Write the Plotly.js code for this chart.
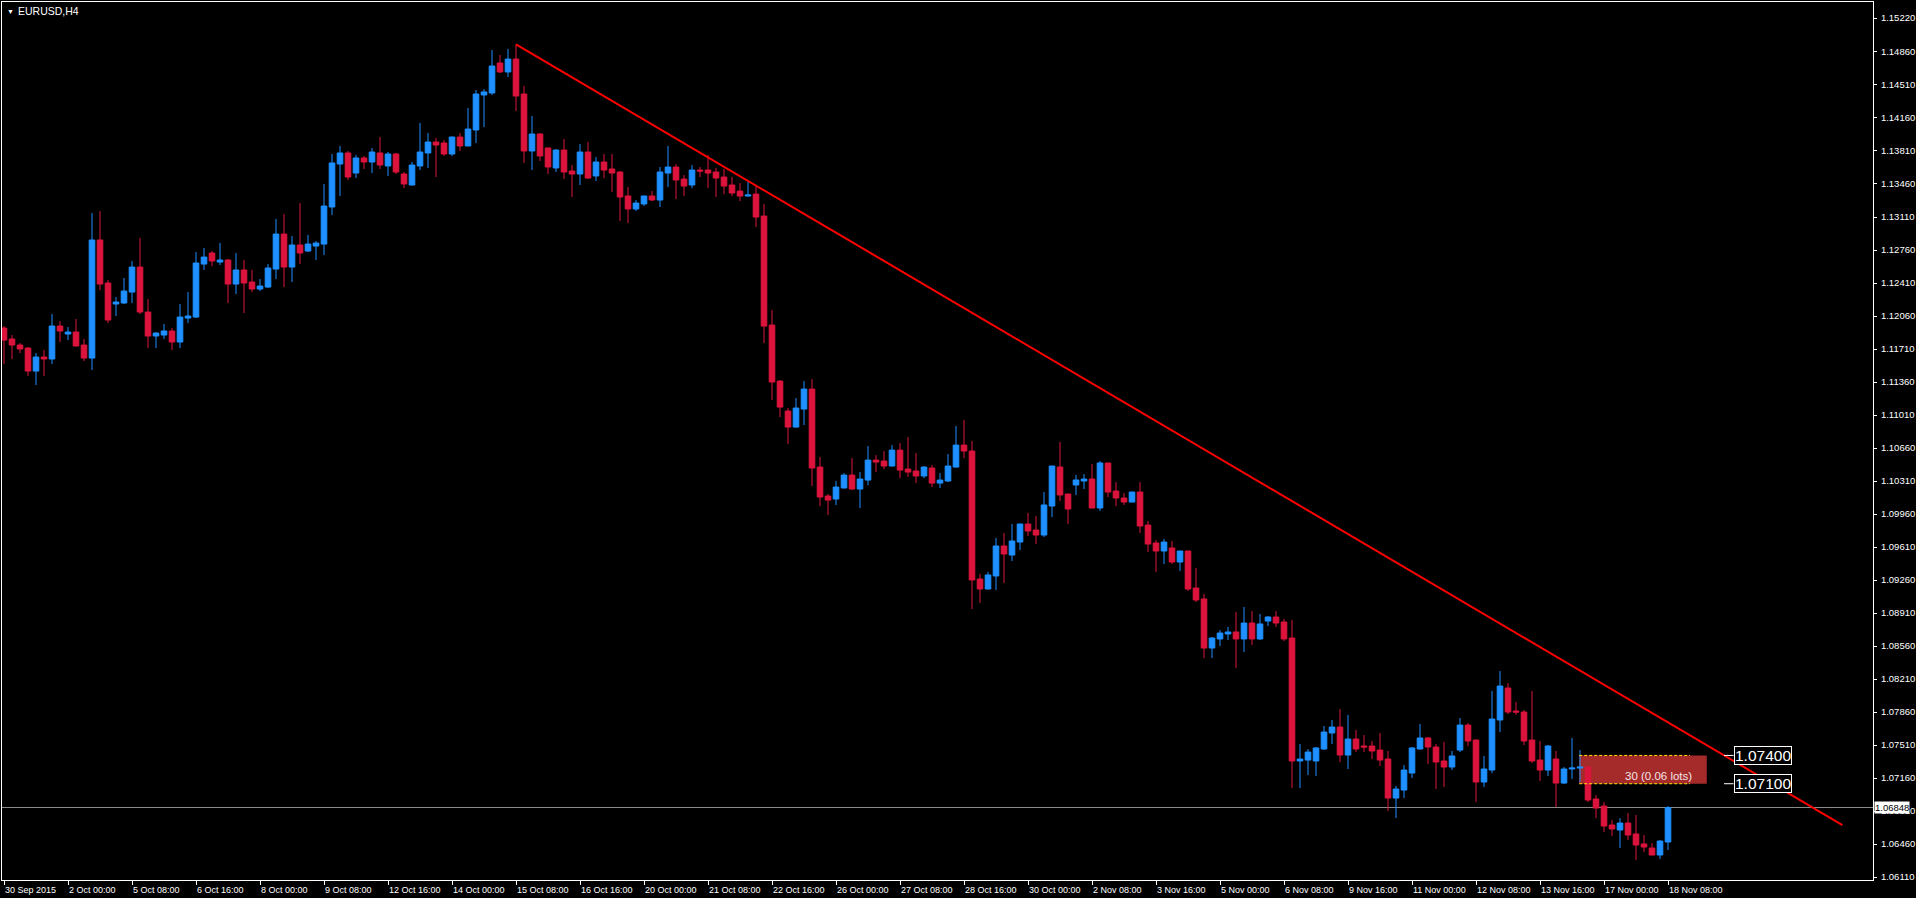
<!DOCTYPE html>
<html>
<head>
<meta charset="utf-8">
<script src="https://cdn.plot.ly/plotly-3.0.1.min.js"></script>
<style>
html,body{margin:0;padding:0;background:#000;}
#chart{width:1916px;height:898px;}
</style>
</head>
<body>
<div id="chart"></div>
<script>
// EURUSD H4 bars, 30 Sep 2015 16:00 .. 18 Nov 2015 08:00
const openP = [
1.11932,1.11816,1.11752,1.11720,1.11476,1.11625,1.11604,1.11954,1.11869,1.11890,
1.11752,1.11614,1.12866,1.12410,1.12187,1.12198,1.12314,1.12579,1.12102,1.11848,
1.11858,1.11901,1.11784,1.12038,1.12049,1.12611,1.12728,1.12632,1.12654,1.12399,
1.12548,1.12420,1.12346,1.12367,1.12558,1.12929,1.12579,1.12813,1.12749,1.12802,
1.12823,1.13216,1.13672,1.13789,1.13576,1.13736,1.13693,1.13789,1.13651,1.13778,
1.13566,1.13449,1.13651,1.13789,1.13905,1.13895,1.13778,1.13958,1.13863,1.14033,
1.14404,1.14425,1.14743,1.14648,1.14785,1.14414,1.13810,1.13990,1.13842,1.13630,
1.13820,1.13598,1.13566,1.13799,1.13545,1.13693,1.13619,1.13587,1.13333,1.13195,
1.13248,1.13333,1.13290,1.13576,1.13640,1.13512,1.13449,1.13608,1.13608,1.13587,
1.13534,1.13449,1.13385,1.13332,1.13353,1.13120,1.11964,1.11370,1.11052,1.10882,
1.11073,1.11285,1.10458,1.10151,1.10119,1.10236,1.10373,1.10225,1.10320,1.10532,
1.10522,1.10469,1.10638,1.10437,1.10416,1.10363,1.10448,1.10288,1.10310,1.10458,
1.10691,1.10628,1.09271,1.09165,1.09303,1.09621,1.09525,1.09663,1.09854,1.09790,
1.09737,1.10045,1.10459,1.10172,1.10268,1.10310,1.10331,1.10024,1.10501,1.10204,
1.10130,1.10087,1.10193,1.09843,1.09653,1.09568,1.09600,1.09451,1.09568,1.09175,
1.09059,1.08539,1.08635,1.08688,1.08709,1.08635,1.08804,1.08635,1.08825,1.08868,
1.08815,1.08645,1.07341,1.07351,1.07341,1.07468,1.07638,1.07701,1.07404,1.07574,
1.07500,1.07500,1.07457,1.07362,1.06948,1.07033,1.07213,1.07468,1.07585,1.07489,
1.07341,1.07277,1.07457,1.07722,1.07563,1.07118,1.07245,1.07776,1.08115,1.07871,
1.07860,1.07563,1.07351,1.07245,1.07362,1.07107,1.07256,1.07266,1.07277,1.06938,
1.06863,1.06662,1.06609,1.06683,1.06567,1.06461,1.06418,1.06344,1.06482
];
const highP = [
1.11954,1.11858,1.11773,1.11731,1.11667,1.11699,1.12081,1.12007,1.11943,1.12028,
1.11816,1.13152,1.13173,1.12442,1.12261,1.12463,1.12643,1.12887,1.12240,1.11890,
1.11975,1.11932,1.12187,1.12314,1.12738,1.12781,1.12749,1.12834,1.12664,1.12728,
1.12654,1.12548,1.12452,1.12611,1.13088,1.13141,1.12908,1.13258,1.12919,1.12855,
1.13460,1.13778,1.13863,1.13810,1.13767,1.13757,1.13842,1.13958,1.13799,1.13789,
1.13587,1.13693,1.14107,1.14001,1.13948,1.13926,1.13962,1.14001,1.14266,1.14457,
1.14467,1.14881,1.14828,1.14892,1.14941,1.14499,1.14181,1.14001,1.13845,1.13831,
1.13937,1.13661,1.13884,1.13905,1.13746,1.13778,1.13778,1.13598,1.13428,1.13290,
1.13336,1.13386,1.13640,1.13863,1.13671,1.13555,1.13661,1.13640,1.13767,1.13629,
1.13618,1.13534,1.13470,1.13481,1.13438,1.13247,1.12123,1.11381,1.11084,1.11190,
1.11370,1.11391,1.10564,1.10172,1.10310,1.10394,1.10554,1.10405,1.10681,1.10585,
1.10628,1.10691,1.10713,1.10776,1.10607,1.10469,1.10479,1.10394,1.10596,1.10893,
1.10957,1.10734,1.09324,1.09346,1.09706,1.09759,1.09854,1.09858,1.09971,1.09939,
1.10193,1.10472,1.10724,1.10176,1.10374,1.10384,1.10490,1.10522,1.10505,1.10299,
1.10183,1.10196,1.10299,1.09886,1.09684,1.09695,1.09674,1.09571,1.09571,1.09387,
1.09112,1.08656,1.08730,1.08762,1.08921,1.08974,1.08931,1.08900,1.08878,1.08931,
1.08847,1.08836,1.07521,1.07468,1.07489,1.07712,1.07776,1.07892,1.07829,1.07670,
1.07616,1.07553,1.07638,1.07447,1.07076,1.07298,1.07489,1.07733,1.07595,1.07521,
1.07542,1.07447,1.07797,1.07744,1.07567,1.07394,1.08083,1.08295,1.08168,1.07966,
1.07882,1.08083,1.07553,1.07510,1.07447,1.07277,1.07585,1.07457,1.07280,1.06980,
1.06906,1.06715,1.06736,1.06789,1.06768,1.06556,1.06471,1.06503,1.06863
];
const lowP = [
1.11551,1.11604,1.11667,1.11423,1.11328,1.11423,1.11551,1.11784,1.11805,1.11738,
1.11582,1.11487,1.12335,1.11985,1.12060,1.12187,1.12198,1.12081,1.11720,1.11720,
1.11816,1.11699,1.11720,1.11985,1.12038,1.12548,1.12590,1.12601,1.12198,1.12293,
1.12092,1.12314,1.12325,1.12357,1.12452,1.12367,1.12420,1.12611,1.12738,1.12654,
1.12707,1.13131,1.13333,1.13502,1.13523,1.13619,1.13576,1.13619,1.13545,1.13566,
1.13417,1.13445,1.13608,1.13630,1.13534,1.13757,1.13757,1.13810,1.13860,1.13895,
1.14064,1.14404,1.14637,1.14595,1.14234,1.13683,1.13608,1.13704,1.13566,1.13587,
1.13513,1.13322,1.13449,1.13513,1.13492,1.13523,1.13375,1.13067,1.13046,1.13173,
1.13227,1.13280,1.13216,1.13428,1.13300,1.13332,1.13417,1.13534,1.13417,1.13321,
1.13353,1.13332,1.13279,1.13330,1.13003,1.11773,1.11169,1.10988,1.10702,1.10878,
1.10904,1.10257,1.10045,1.09949,1.10055,1.10232,1.10214,1.10023,1.10267,1.10405,
1.10437,1.10465,1.10341,1.10352,1.10288,1.10341,1.10246,1.10236,1.10299,1.10454,
1.10554,1.08953,1.09017,1.09160,1.09155,1.09229,1.09462,1.09578,1.09727,1.09642,
1.09716,1.09928,1.10098,1.09854,1.10162,1.10225,1.10020,1.09992,1.10140,1.10045,
1.10056,1.10084,1.09759,1.09557,1.09345,1.09430,1.09430,1.09356,1.09144,1.09027,
1.08433,1.08433,1.08560,1.08624,1.08327,1.08497,1.08571,1.08624,1.08772,1.08762,
1.08613,1.07054,1.07054,1.07192,1.07182,1.07457,1.07521,1.07330,1.07256,1.07436,
1.07436,1.07362,1.07288,1.06810,1.06736,1.06948,1.07160,1.07464,1.07309,1.07044,
1.07065,1.07245,1.07436,1.07500,1.06906,1.07065,1.07213,1.07648,1.07839,1.07829,
1.07510,1.07320,1.07128,1.07182,1.06853,1.07097,1.07150,1.07118,1.06906,1.06736,
1.06588,1.06545,1.06418,1.06503,1.06291,1.06376,1.06340,1.06301,1.06397
];
const closeP = [
1.11805,1.11752,1.11710,1.11476,1.11625,1.11604,1.11954,1.11901,1.11890,1.11742,
1.11614,1.12866,1.12399,1.12017,1.12208,1.12325,1.12579,1.12102,1.11848,1.11879,
1.11901,1.11784,1.12049,1.12060,1.12622,1.12685,1.12643,1.12654,1.12399,1.12548,
1.12410,1.12346,1.12378,1.12569,1.12929,1.12579,1.12813,1.12728,1.12823,1.12834,
1.13226,1.13683,1.13789,1.13534,1.13736,1.13693,1.13799,1.13661,1.13778,1.13587,
1.13460,1.13661,1.13799,1.13905,1.13873,1.13778,1.13958,1.13863,1.14043,1.14414,
1.14436,1.14711,1.14648,1.14785,1.14393,1.13810,1.13990,1.13757,1.13640,1.13820,
1.13587,1.13566,1.13799,1.13523,1.13693,1.13608,1.13576,1.13322,1.13195,1.13258,
1.13333,1.13290,1.13587,1.13640,1.13502,1.13438,1.13608,1.13597,1.13576,1.13523,
1.13438,1.13364,1.13332,1.13343,1.13109,1.11953,1.11360,1.11094,1.10882,1.11084,
1.11285,1.10448,1.10140,1.10108,1.10246,1.10373,1.10225,1.10331,1.10532,1.10511,
1.10469,1.10638,1.10426,1.10405,1.10363,1.10458,1.10288,1.10320,1.10469,1.10691,
1.10628,1.09261,1.09165,1.09314,1.09621,1.09536,1.09674,1.09854,1.09780,1.09737,
1.10056,1.10469,1.10162,1.10013,1.10321,1.10331,1.10024,1.10501,1.10193,1.10130,
1.10087,1.10193,1.09833,1.09642,1.09568,1.09663,1.09451,1.09568,1.09165,1.09048,
1.08539,1.08645,1.08698,1.08709,1.08635,1.08804,1.08635,1.08794,1.08868,1.08804,
1.08635,1.07341,1.07362,1.07436,1.07479,1.07648,1.07701,1.07404,1.07574,1.07468,
1.07489,1.07447,1.07351,1.06948,1.07044,1.07245,1.07479,1.07585,1.07489,1.07330,
1.07277,1.07394,1.07722,1.07553,1.07118,1.07256,1.07786,1.08136,1.07860,1.07860,
1.07553,1.07341,1.07245,1.07500,1.07107,1.07256,1.07266,1.07277,1.06927,1.06842,
1.06651,1.06620,1.06683,1.06556,1.06450,1.06429,1.06344,1.06492,1.06848
];

// time-axis labels (one every 8 bars)
const xLabels = ["30 Sep 2015","2 Oct 00:00","5 Oct 08:00","6 Oct 16:00","8 Oct 00:00",
"9 Oct 08:00","12 Oct 16:00","14 Oct 00:00","15 Oct 08:00","16 Oct 16:00","20 Oct 00:00",
"21 Oct 08:00","22 Oct 16:00","26 Oct 00:00","27 Oct 08:00","28 Oct 16:00","30 Oct 00:00",
"2 Nov 08:00","3 Nov 16:00","5 Nov 00:00","6 Nov 08:00","9 Nov 16:00","11 Nov 00:00",
"12 Nov 08:00","13 Nov 16:00","17 Nov 00:00","18 Nov 08:00"];
const labelStep = 8;

// price-axis labels
const yTicks = [1.06110,1.06460,1.06810,1.07160,1.07510,1.07860,1.08210,1.08560,1.08910,
1.09260,1.09610,1.09960,1.10310,1.10660,1.11010,1.11360,1.11710,1.12060,1.12410,1.12760,
1.13110,1.13460,1.13810,1.14160,1.14510,1.14860,1.15220];

// objects
const trendX = [64, 229.8];
const trendY = [1.14941, 1.06662];
const bidPrice = 1.06848;
const orderPrices = [1.07400, 1.07100];
const orderLabel = "30 (0.06 lots)";
const orderBars = [196.9, 212.85];
const symbolTitle = "EURUSD,H4";

const n = openP.length;
const idx = [];
for (let i = 0; i < n; i++) idx.push(i);
const tickIdx = xLabels.map((_, k) => k * labelStep);

const FONT = "Liberation Sans, Arial, sans-serif";
const BLUE = "#1E90FF", RED = "#DC143C";

const traces = [
  {
    type: "candlestick", x: idx, open: openP, high: highP, low: lowP, close: closeP,
    increasing: {line: {color: BLUE, width: 1}, fillcolor: BLUE},
    decreasing: {line: {color: RED, width: 1}, fillcolor: RED},
    whiskerwidth: 0, hoverinfo: "skip", showlegend: false
  },
  {
    type: "scatter", mode: "lines", x: trendX, y: trendY,
    line: {color: "#FF0000", width: 2}, hoverinfo: "skip", showlegend: false
  }
];

const shapes = [
  {type: "rect", xref: "x", yref: "y", x0: orderBars[0], x1: orderBars[1],
   y0: orderPrices[1], y1: orderPrices[0], fillcolor: "#A52A2A", line: {width: 0}, layer: "below"},
  {type: "line", xref: "paper", yref: "y", x0: 0, x1: 1, y0: bidPrice, y1: bidPrice,
   line: {color: "#8C8C8C", width: 1}, layer: "below"},
  {type: "line", xref: "x", yref: "y", x0: orderBars[0], x1: 210.75, y0: orderPrices[0], y1: orderPrices[0],
   line: {color: "#FFE600", width: 1, dash: "3px,2px"}},
  {type: "line", xref: "x", yref: "y", x0: orderBars[0], x1: 210.75, y0: orderPrices[1], y1: orderPrices[1],
   line: {color: "#FFE600", width: 1, dash: "3px,2px"}},
  {type: "line", xref: "x", yref: "y", x0: 215, x1: 216.2, y0: orderPrices[0], y1: orderPrices[0],
   line: {color: "#FFFFFF", width: 1}},
  {type: "line", xref: "x", yref: "y", x0: 215, x1: 216.2, y0: orderPrices[1], y1: orderPrices[1],
   line: {color: "#FFFFFF", width: 1}}
];

const annotations = [
  {xref: "paper", yref: "paper", x: 0, y: 1, xanchor: "left", yanchor: "middle",
   xshift: 3, yshift: -9, text: "\u25BC", showarrow: false, font: {family: FONT, size: 7, color: "#FFFFFF"}},
  {xref: "paper", yref: "paper", x: 0, y: 1, xanchor: "left", yanchor: "middle",
   xshift: 14, yshift: -9, text: symbolTitle, showarrow: false, font: {family: FONT, size: 10.5, color: "#FFFFFF"}},
  {xref: "x", yref: "y", x: 206.8, y: 1.07182, xanchor: "center", yanchor: "middle",
   text: orderLabel, showarrow: false, font: {family: FONT, size: 11.5, color: "#F2E4E4"}},
  {xref: "paper", yref: "y", x: 1, y: bidPrice, xanchor: "left", yanchor: "middle", xshift: 1,
   text: bidPrice.toFixed(5), showarrow: false, bgcolor: "#FFFFFF", borderpad: 0,
   font: {family: FONT, size: 9.5, color: "#000000"}}
];
orderPrices.forEach(p => annotations.push({
  xref: "x", yref: "y", x: 216.2, y: p, xanchor: "left", yanchor: "middle",
  text: p.toFixed(5), showarrow: false, bgcolor: "#000000", bordercolor: "#FFFFFF",
  borderwidth: 1, borderpad: 0, font: {family: FONT, size: 15.5, color: "#FFFFFF"}
}));
xLabels.forEach((t, k) => annotations.push({
  xref: "x", yref: "paper", x: tickIdx[k], y: 0, xanchor: "left", yanchor: "middle",
  xshift: -1, yshift: -10, text: t, showarrow: false,
  font: {family: FONT, size: 9, color: "#FFFFFF"}
}));

const layout = {
  width: 1916, height: 898,
  margin: {l: 2, r: 43, t: 2, b: 18, pad: 0},
  paper_bgcolor: "#000000", plot_bgcolor: "#000000",
  showlegend: false, hovermode: false, dragmode: false,
  boxgap: 0.3, boxgroupgap: 0,
  xaxis: {
    range: [-0.25, 233.625], fixedrange: true,
    rangeslider: {visible: false},
    showgrid: false, zeroline: false,
    showline: true, linecolor: "#FFFFFF", linewidth: 1, mirror: true,
    tickmode: "array", tickvals: tickIdx, ticktext: xLabels.map(() => ""),
    ticks: "outside", ticklen: 4, tickcolor: "#FFFFFF", tickwidth: 1
  },
  yaxis: {
    range: [1.06079, 1.15390], fixedrange: true, side: "right",
    showgrid: false, zeroline: false,
    showline: true, linecolor: "#FFFFFF", linewidth: 1, mirror: true,
    tickmode: "array", tickvals: yTicks, ticktext: yTicks.map(v => v.toFixed(5)),
    ticks: "outside", ticklen: 3, tickcolor: "#FFFFFF", tickwidth: 1,
    ticklabelstandoff: 2,
    tickfont: {family: FONT, size: 9.5, color: "#FFFFFF"}
  },
  shapes: shapes,
  annotations: annotations
};

Plotly.newPlot("chart", traces, layout, {staticPlot: true, displayModeBar: false});
</script>
</body>
</html>
